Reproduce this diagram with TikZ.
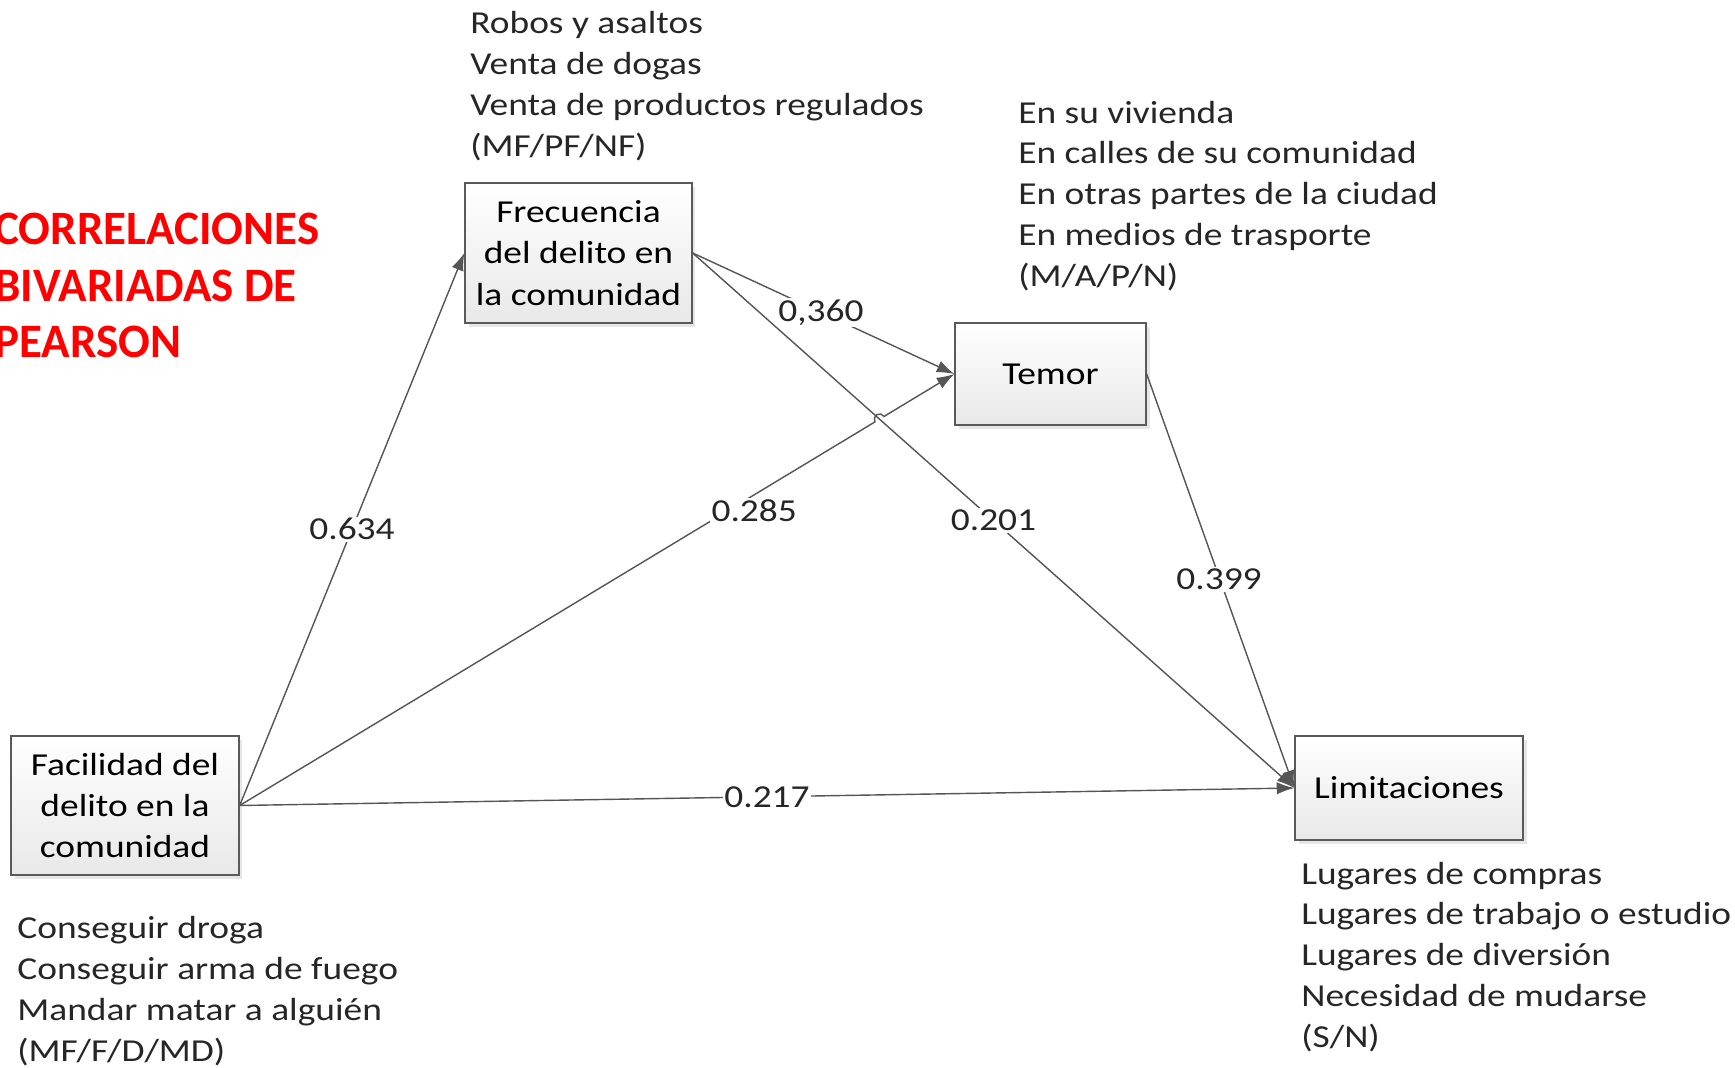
\documentclass[tikz,border=0pt]{standalone}
\usepackage{fontspec}
\setmainfont[FakeStretch=1.17]{Carlito}
\newfontfamily\rotulo[FakeStretch=0.98]{Carlito}
\usepackage{xcolor}
\usepackage{tikz}
\usetikzlibrary{arrows.meta,positioning,calc,shadows}

\definecolor{borde}{RGB}{90,90,90}
\definecolor{linea}{RGB}{85,85,85}

\tikzset{
	caja/.style={draw=borde, line width=0.8pt, top color=white, bottom color=black!9,
		drop shadow={opacity=0.2, shadow xshift=2pt, shadow yshift=-2pt},
		align=center, inner sep=0pt, font=\fontsize{18.2}{23.5}\selectfont},
	nota/.style={align=left, anchor=west, inner sep=0pt, font=\fontsize{18.2}{23.3}\selectfont, text=black!85},
	peso/.style={fill=white, inner sep=1pt, font=\fontsize{18.2}{22}\selectfont, text=black!85},
	flecha/.style={draw=linea, line width=0.8pt, -{Latex[length=10pt,width=7pt]}}
}

\begin{document}
\begin{tikzpicture}[x=0.02cm, y=-0.02cm]
		\useasboundingbox (0,0) rectangle (1735,1068);

		% cajas
		\node[caja, minimum width=4.54cm, minimum height=2.8cm] (frec) at (578.5,253) {Frecuencia\\del delito en\\la comunidad};
		\node[caja, minimum width=3.82cm, minimum height=2.04cm] (tem) at (1050.5,374) {Temor};
		\node[caja, minimum width=4.56cm, minimum height=2.78cm] (fac) at (125,805.5) {Facilidad del\\delito en la\\comunidad};
		\node[caja, minimum width=4.56cm, minimum height=2.08cm] (lim) at (1409,788) {Limitaciones};

		% textos
		\node[nota] (nfrec) at (470,86.5) {Robos y asaltos\\Venta de dogas\\Venta de productos regulados\\(MF/PF/NF)};
		\node[nota] (ntem) at (1018,196) {En su vivienda\\En calles de su comunidad\\En otras partes de la ciudad\\En medios de trasporte\\(M/A/P/N)};
		\node[nota] (nfac) at (17,991.5) {Conseguir droga\\Conseguir arma de fuego\\Mandar matar a alguién\\(MF/F/D/MD)};
		\node[nota] (nlim) at (1301,957) {Lugares de compras\\Lugares de trabajo o estudio\\Lugares de diversión\\Necesidad de mudarse\\(S/N)};

		\node[align=left, anchor=west, inner sep=0pt, text=red, font=\rotulo\fontsize{27.3}{32.4}\selectfont\bfseries] (titulo) at (-6,285.5) {CORRELACIONES\\BIVARIADAS DE\\PEARSON};

		% flechas
		\coordinate (cruce) at (intersection of fac.east--tem.west and frec.east--lim.west);
		\draw[flecha] (fac.east) -- (frec.west);
		\draw[flecha] (fac.east) -- ($(cruce)!3pt!(fac.east)$) arc[start angle=211, end angle=31, radius=3pt] -- (tem.west);
		\draw[flecha] (fac.east) -- (lim.west);
		\draw[flecha] (frec.east) -- (tem.west);
		\draw[flecha] (frec.east) -- (lim.west);
		\draw[flecha] (tem.east) -- (lim.west);

		% pesos
		\path (fac.east) -- node[peso, pos=0.5] {0.634} (frec.west);
		\path (fac.east) -- node[peso, pos=0.72, yshift=-9pt] {0.285} (tem.west);
		\path (fac.east) -- node[peso, pos=0.5] {0.217} (lim.west);
		\path (frec.east) -- node[peso, pos=0.49] {0,360} (tem.west);
		\path (frec.east) -- node[peso, pos=0.5] {0.201} (lim.west);
		\path (tem.east) -- node[peso, pos=0.49, yshift=-1.5pt] {0.399} (lim.west);
	\end{tikzpicture}
\end{document}
